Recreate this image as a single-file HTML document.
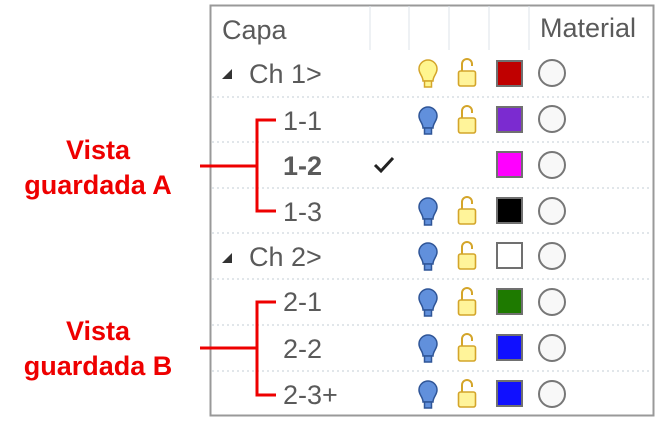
<!DOCTYPE html>
<html><head><meta charset="utf-8"><style>
html,body{margin:0;padding:0;background:#fff;width:659px;height:421px;overflow:hidden}
svg{display:block}
text{font-family:"Liberation Sans",Arial,sans-serif}
</style></head><body>
<svg width="659" height="421" viewBox="0 0 659 421" xmlns="http://www.w3.org/2000/svg">
<defs>
<g id="bulbB">
<path d="M0,-10 a9,9 0 0 1 9,9 c0,5 -4,7 -4,12 h-10 c0,-5 -4,-7 -4,-12 a9,9 0 0 1 9,-9z" fill="#6190dc" stroke="#2f5597" stroke-width="1.5"/>
<rect x="-3.5" y="11" width="7" height="6" fill="#6190dc" stroke="#2f5597" stroke-width="1.5"/>
</g>
<g id="lock">
<path d="M-5,-2 v-7 a5,5 0 0 1 10,0 v2" fill="none" stroke="#d4a52a" stroke-width="2"/>
<rect x="-8.5" y="-2" width="17" height="15" rx="2" fill="#fff49a" stroke="#d4a52a" stroke-width="1.6"/>
</g>
</defs>
<rect x="210.5" y="5.5" width="443" height="410" fill="#fff" stroke="#999" stroke-width="2"/>
<g stroke="#dde3ea" stroke-width="1">
<line x1="370" y1="6" x2="370" y2="50"/><line x1="409" y1="6" x2="409" y2="50"/>
<line x1="449" y1="6" x2="449" y2="50"/><line x1="489" y1="6" x2="489" y2="50"/>
<line x1="529" y1="6" x2="529" y2="50"/>
</g>
<g stroke="#cfd6de" stroke-width="1.2" stroke-dasharray="2,3">
<line x1="212" y1="97" x2="652" y2="97"/><line x1="212" y1="142" x2="652" y2="142"/>
<line x1="212" y1="188" x2="652" y2="188"/><line x1="212" y1="233" x2="652" y2="233"/>
<line x1="212" y1="279" x2="652" y2="279"/><line x1="212" y1="325" x2="652" y2="325"/>
<line x1="212" y1="371" x2="652" y2="371"/>
</g>
<g fill="#5a5a5a" font-size="27">
<text x="222" y="39">Capa</text>
<text x="540" y="37">Material</text>
<text x="249" y="83">Ch 1&gt;</text>
<text x="283" y="130">1-1</text>
<text x="283" y="175" font-weight="bold">1-2</text>
<text x="283" y="221">1-3</text>
<text x="249" y="266">Ch 2&gt;</text>
<text x="283" y="311">2-1</text>
<text x="283" y="358">2-2</text>
<text x="283" y="404">2-3+</text>
</g>
<polygon points="222,79 232,79 232,69" fill="#333"/>
<polygon points="222,263 232,263 232,253" fill="#333"/>
<path d="M375,165 l6,6 l12,-13" fill="none" stroke="#222" stroke-width="3"/>
<g transform="translate(428,70)"><path d="M0,-10 a9,9 0 0 1 9,9 c0,5 -4,7 -4,12 h-10 c0,-5 -4,-7 -4,-12 a9,9 0 0 1 9,-9z" fill="#fff68f" stroke="#d4a52a" stroke-width="1.5"/><rect x="-3.5" y="11" width="7" height="6" fill="#fff68f" stroke="#d4a52a" stroke-width="1.5"/></g>
<use href="#bulbB" x="428" y="117"/>
<use href="#bulbB" x="428" y="208"/>
<use href="#bulbB" x="428" y="253"/>
<use href="#bulbB" x="428" y="299"/>
<use href="#bulbB" x="428" y="345"/>
<use href="#bulbB" x="428" y="391"/>
<use href="#lock" x="467" y="73"/>
<use href="#lock" x="467" y="120"/>
<use href="#lock" x="467" y="211"/>
<use href="#lock" x="467" y="256"/>
<use href="#lock" x="467" y="302"/>
<use href="#lock" x="467" y="348"/>
<use href="#lock" x="467" y="394"/>
<g stroke="#707070" stroke-width="2">
<rect x="497" y="61" width="25" height="25" fill="#c00000"/>
<rect x="497" y="107" width="25" height="25" fill="#7b2bd0"/>
<rect x="497" y="152" width="25" height="25" fill="#ff00ff"/>
<rect x="497" y="198" width="25" height="25" fill="#000"/>
<rect x="497" y="243" width="25" height="25" fill="#fff"/>
<rect x="497" y="289" width="25" height="25" fill="#1e7a00"/>
<rect x="497" y="335" width="25" height="25" fill="#1010ff"/>
<rect x="497" y="381" width="25" height="25" fill="#1010ff"/>
</g>
<g fill="#f8f8f8" stroke="#777" stroke-width="2">
<circle cx="552" cy="73" r="13"/><circle cx="552" cy="119" r="13"/>
<circle cx="552" cy="165" r="13"/><circle cx="552" cy="211" r="13"/>
<circle cx="552" cy="256" r="13"/><circle cx="552" cy="302" r="13"/>
<circle cx="552" cy="348" r="13"/><circle cx="552" cy="394" r="13"/>
</g>
<g fill="none" stroke="#ee0000" stroke-width="3">
<path d="M276,120 H257 V211 H276"/><line x1="200" y1="166" x2="257" y2="166"/>
<path d="M276,302 H257 V395 H276"/><line x1="200" y1="348" x2="257" y2="348"/>
</g>
<g fill="#ee0000" font-size="27" font-weight="bold" text-anchor="middle">
<text x="98" y="159">Vista</text>
<text x="98" y="194">guardada A</text>
<text x="98" y="340">Vista</text>
<text x="98" y="375">guardada B</text>
</g>
</svg>
</body></html>
